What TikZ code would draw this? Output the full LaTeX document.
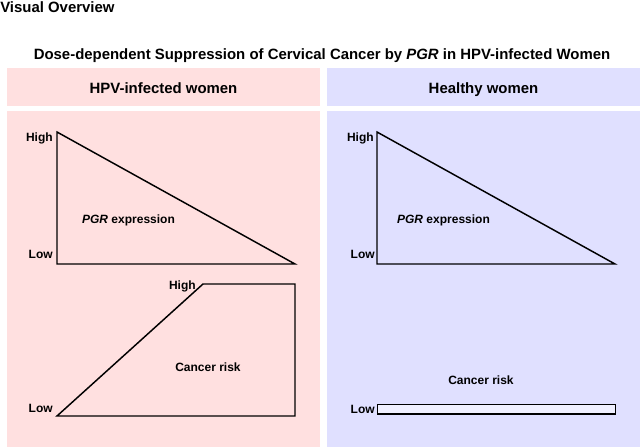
\documentclass[tikz,border=0pt]{standalone}
\usepackage{fontspec}
\setmainfont{Liberation Sans}
\definecolor{pinkbg}{HTML}{FFE0E0}
\definecolor{bluebg}{HTML}{E0E0FF}
\definecolor{barfill}{HTML}{F0F0FF}
\begin{document}
\begin{tikzpicture}[x=0.75pt,y=-0.75pt,
  lbl/.style={font=\fontsize{9}{10}\selectfont\bfseries, inner sep=0pt},
  hdr/.style={font=\fontsize{11.2}{13}\selectfont\bfseries, inner sep=0pt},
  outline/.style={draw=black, line width=1.1pt, line join=miter}]
\fill[white] (0,0) rectangle (640,447);
\useasboundingbox (0,0) rectangle (640,447);
% panels
\fill[pinkbg] (7,68) rectangle (320,106);
\fill[pinkbg] (7,111) rectangle (320,447);
\fill[bluebg] (327,68) rectangle (640,106);
\fill[bluebg] (327,111) rectangle (640,447);
% titles
\node[hdr, anchor=base west] (vo) at (0,12) {Visual Overview};
\node[hdr, anchor=base] (title) at (322,59) {Dose-dependent Suppression of Cervical Cancer by \textit{PGR} in HPV-infected Women};
\node[hdr, anchor=base] (hl) at (163.5,93) {HPV-infected women};
\node[hdr, anchor=base] (hr) at (483.5,93) {Healthy women};
% left triangle
\coordinate (lt1) at (57,132);
\coordinate (lt2) at (57,264);
\coordinate (lt3) at (295,264);
\draw[outline] (lt1) -- (lt2) -- (lt3) -- cycle;
\node[lbl, anchor=base east] (lhigh) at (53,141) {High};
\node[lbl, anchor=base east] (llow) at (53,258) {Low};
\node[lbl] (lpgr) at (128.5,220) {\textit{PGR} expression};
% left trapezoid
\coordinate (lq1) at (57,416);
\coordinate (lq2) at (203,284);
\coordinate (lq3) at (295,284);
\coordinate (lq4) at (295,416);
\draw[outline] (lq1) -- (lq2) -- (lq3) -- (lq4) -- cycle;
\node[lbl, anchor=base east] (lqhigh) at (196,289) {High};
\node[lbl, anchor=base east] (lqlow) at (53,412) {Low};
\node[lbl] (lrisk) at (208,367) {Cancer risk};
% right triangle
\coordinate (rt1) at (377,132);
\coordinate (rt2) at (377,264);
\coordinate (rt3) at (615,264);
\draw[outline] (rt1) -- (rt2) -- (rt3) -- cycle;
\node[lbl, anchor=base east] (rhigh) at (374,141) {High};
\node[lbl, anchor=base east] (rlow) at (375,258) {Low};
\node[lbl] (rpgr) at (443.5,220) {\textit{PGR} expression};
% right bar
\coordinate (rb1) at (377.5,404.5);
\coordinate (rb2) at (615.5,414);
\draw[outline, fill=barfill] (rb1) rectangle (rb2);
\node[lbl, anchor=base east] (rblow) at (375,413) {Low};
\node[lbl] (rrisk) at (481,380) {Cancer risk};
\end{tikzpicture}
\end{document}
